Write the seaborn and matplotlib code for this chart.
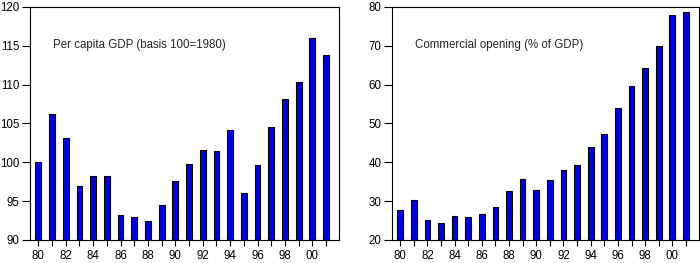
import matplotlib
matplotlib.use('Agg')
import matplotlib.pyplot as plt
import pandas as pd
import seaborn as sns
from matplotlib.ticker import FixedLocator, FixedFormatter

sns.set_style('ticks')
plt.rcParams['font.family'] = ['Liberation Sans', 'DejaVu Sans']

years = list(range(1980, 2002))
gdp_per_capita = [100.0, 106.2, 103.1, 97.0, 98.2, 98.3, 93.2, 93.0, 92.4, 94.5, 97.6,
                  99.8, 101.6, 101.5, 104.2, 96.1, 99.6, 104.6, 108.1, 110.3, 116.0, 113.8]
trade_opening = [27.6, 30.3, 25.1, 24.3, 26.2, 26.0, 26.7, 28.4, 32.7, 35.8, 33.0,
                 35.5, 38.0, 39.3, 43.9, 47.3, 54.0, 59.6, 64.2, 70.0, 77.9, 78.6]
tick_labels = [f'{y % 100:02d}' for y in years[::2]]

df = pd.DataFrame({'year': [str(y) for y in years],
                   'gdp': gdp_per_capita, 'open': trade_opening})

fig = plt.figure(figsize=(7, 2.63), dpi=100)
ax1 = fig.add_axes([0.043, 0.0875, 0.441, 0.886])
ax2 = fig.add_axes([0.56, 0.0875, 0.438, 0.886])

panels = [
    (ax1, 'gdp', (90, 120), range(90, 121, 5), 'Per capita GDP (basis 100=1980)'),
    (ax2, 'open', (20, 80), range(20, 81, 10), 'Commercial opening (% of GDP)'),
]

for ax, col, ylim, yticks, label in panels:
    sns.barplot(data=df, x='year', y=col, ax=ax, color='#0000dd', saturation=1,
                width=0.42, edgecolor='black', linewidth=0.8)
    ax.set_ylim(*ylim)
    ax.set_xlim(-0.6, 21.93)
    ax.set_yticks(list(yticks))
    ax.xaxis.set_major_locator(FixedLocator(list(range(0, 22, 2))))
    ax.xaxis.set_major_formatter(FixedFormatter(tick_labels))
    ax.xaxis.set_minor_locator(FixedLocator(list(range(1, 22, 2))))
    ax.tick_params(axis='x', which='both', direction='out', length=4, width=0.8,
                   labelsize=8.3, colors='black', pad=3)
    ax.tick_params(axis='y', which='both', direction='out', length=6, width=0.8,
                   labelsize=8.3, colors='black', pad=1.5)
    ax.set_xlabel(None)
    ax.set_ylabel(None)
    for s in ax.spines.values():
        s.set_visible(True)
        s.set_linewidth(0.8)
        s.set_color('black')
    ax.text(0.075, 0.835, label, transform=ax.transAxes, fontsize=8.3,
            ha='left', va='center')

fig.savefig('out.png', dpi=100)
